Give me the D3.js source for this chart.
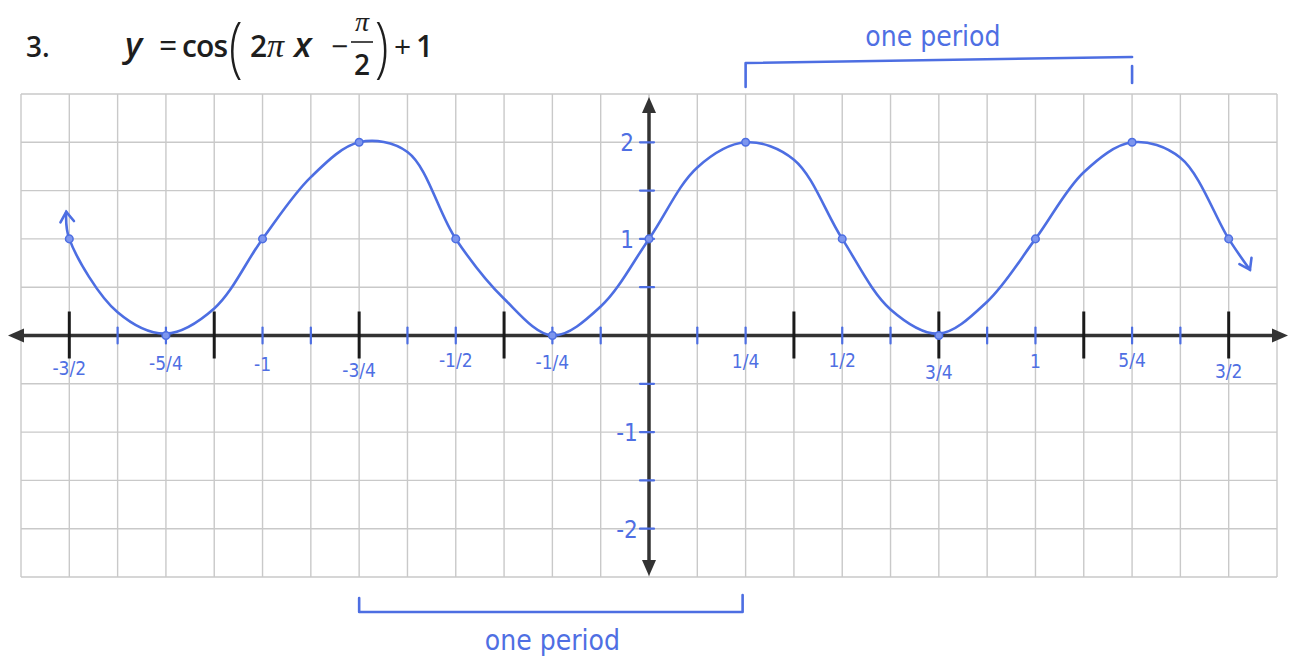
<!DOCTYPE html>
<html>
<head>
<meta charset="utf-8">
<script src="https://cdn.jsdelivr.net/npm/d3@7"></script>
<style>
  html, body { margin: 0; padding: 0; background: #fff; }
  svg { display: block; }
  .hand { font-family: "DejaVu Sans Condensed", "Liberation Sans Narrow", "Roboto", sans-serif; fill: #4f6fe3; }
  .math { font-family: "Open Sans", "DejaVu Sans", sans-serif; fill: #1e1e1e; font-weight: 600; }
  .greek { font-family: "Liberation Serif", "DejaVu Serif", serif; font-style: italic; font-weight: 400; }
</style>
</head>
<body>
<svg id="chart" width="1292" height="664"></svg>
<script>
// Curve y = cos(2πx − π/2) + 1, sampled every eighth of a unit
const curveX = [-1.508, -1.5, -1.375, -1.25, -1.125, -1, -0.875, -0.75, -0.625, -0.5, -0.375, -0.25, -0.125,
                0, 0.125, 0.25, 0.375, 0.5, 0.625, 0.75, 0.875, 1, 1.125, 1.25, 1.375, 1.5, 1.555];
const curveY = [1.28, 1.0, 0.24, 0.02, 0.28, 1.0, 1.64, 2.0, 1.9, 1.0, 0.38, 0.0, 0.3,
                1.0, 1.74, 2.0, 1.82, 1.0, 0.27, 0.02, 0.35, 1.0, 1.69, 2.0, 1.84, 1.0, 0.68];

// Key points marked on the graph
const keyX = [-1.5, -1.25, -1, -0.75, -0.5, -0.25, 0, 0.25, 0.5, 0.75, 1, 1.25, 1.5];
const keyY = [1, 0, 1, 2, 1, 0, 1, 2, 1, 0, 1, 2, 1];

// x-axis tick labels
const xLabelVals = [-1.5, -1.25, -1, -0.75, -0.5, -0.25, 0.25, 0.5, 0.75, 1, 1.25, 1.5];
const xLabelText = ["-3/2", "-5/4", "-1", "-3/4", "-1/2", "-1/4", "1/4", "1/2", "3/4", "1", "5/4", "3/2"];
const xLabelDy   = [39, 34, 35, 41, 31, 33, 32, 31, 43, 32, 31, 42];

// long black ticks and short blue ticks on the x-axis
const majorTicks = [-1.5, -1.125, -0.75, -0.375, 0.375, 0.75, 1.125, 1.5];
const minorTicks = [-1.375, -1.25, -1, -0.875, -0.625, -0.5, -0.25, -0.125,
                    0.125, 0.25, 0.5, 0.625, 0.875, 1, 1.25, 1.375];

// y-axis ticks and labels
const yTicks = [2, 1.5, 1, 0.5, -0.5, -1, -1.5, -2];
const yLabelVals = [2, 1, -1, -2];
const yLabelText = ["2", "1", "-1", "-2"];

// period brackets: [start, end]
const topPeriod = [0.25, 1.25];
const bottomPeriod = [-0.75, 0.25];

const svg = d3.select("#chart");
const blue = "#4d6ee2";
const axisColor = "#333";

const x = d3.scaleLinear().domain([-13 / 8, 13 / 8]).range([21, 1277]);
const y = d3.scaleLinear().domain([-2.5, 2.5]).range([577, 94]);

// grid paper
const grid = svg.append("g").attr("stroke", "#c9c9c9").attr("stroke-width", 1.4);
grid.selectAll("line.v").data(d3.range(-13, 14).map(k => k / 8)).join("line")
  .attr("x1", d => x(d)).attr("x2", d => x(d))
  .attr("y1", y(2.5)).attr("y2", y(-2.5));
grid.selectAll("line.h").data(d3.range(-5, 6).map(k => k / 2)).join("line")
  .attr("x1", x(-13 / 8)).attr("x2", x(13 / 8))
  .attr("y1", d => y(d)).attr("y2", d => y(d));

// axes with arrowheads
const axes = svg.append("g");
axes.append("line").attr("x1", x(-13 / 8) - 6).attr("x2", x(13 / 8) + 4)
  .attr("y1", y(0)).attr("y2", y(0)).attr("stroke", axisColor).attr("stroke-width", 3.5);
axes.append("line").attr("x1", x(0)).attr("x2", x(0))
  .attr("y1", y(2.5) + 10).attr("y2", y(-2.5) - 10).attr("stroke", axisColor).attr("stroke-width", 3.5);
const arrow = (tx, ty, dx, dy) => {
  // triangle pointing in direction (dx, dy)
  const L = 16, W = 7;
  const bx = tx - dx * L, by = ty - dy * L;
  return `M${tx},${ty}L${bx - dy * W},${by + dx * W}L${bx + dy * W},${by - dx * W}Z`;
};
axes.append("path").attr("d", arrow(8, y(0), -1, 0)).attr("fill", axisColor);
axes.append("path").attr("d", arrow(1288, y(0), 1, 0)).attr("fill", axisColor);
axes.append("path").attr("d", arrow(x(0), 97, 0, -1)).attr("fill", axisColor);
axes.append("path").attr("d", arrow(x(0), 576, 0, 1)).attr("fill", axisColor);

// long black ticks
axes.selectAll("line.major").data(majorTicks).join("line")
  .attr("x1", d => x(d)).attr("x2", d => x(d))
  .attr("y1", y(0) - 24).attr("y2", y(0) + 23)
  .attr("stroke", "#1a1a1a").attr("stroke-width", 3);

// short blue ticks on the x-axis
svg.append("g").selectAll("line").data(minorTicks).join("line")
  .attr("x1", d => x(d)).attr("x2", d => x(d))
  .attr("y1", y(0) - 8).attr("y2", y(0) + 8)
  .attr("stroke", blue).attr("stroke-width", 2.2).attr("stroke-linecap", "round");

// short blue ticks on the y-axis
svg.append("g").selectAll("line").data(yTicks).join("line")
  .attr("x1", x(0) - 9).attr("x2", x(0) + 5)
  .attr("y1", d => y(d)).attr("y2", d => y(d))
  .attr("stroke", blue).attr("stroke-width", 2.2).attr("stroke-linecap", "round");

// x labels
svg.append("g").selectAll("text").data(xLabelVals).join("text")
  .attr("class", "hand")
  .attr("x", d => x(d)).attr("y", (d, i) => y(0) + xLabelDy[i])
  .attr("text-anchor", "middle").attr("font-size", 19)
  .text((d, i) => xLabelText[i]);

// y labels
svg.append("g").selectAll("text").data(yLabelVals).join("text")
  .attr("class", "hand")
  .attr("x", x(0) - 22).attr("y", d => y(d) + 9)
  .attr("text-anchor", "middle").attr("font-size", 24)
  .text((d, i) => yLabelText[i]);

// the curve
const pts = curveX.map((d, i) => [d, curveY[i]]);
const line = d3.line().x(d => x(d[0])).y(d => y(d[1])).curve(d3.curveCatmullRom.alpha(0.5));
svg.append("path").datum(pts).attr("d", line)
  .attr("fill", "none").attr("stroke", blue).attr("stroke-width", 2.6)
  .attr("stroke-linecap", "round").attr("stroke-linejoin", "round");

// open chevrons at both ends of the curve
const chevron = (tx, ty, ang) => {
  const L = 12, s = 0.6;
  const p1 = [tx - L * Math.cos(ang - s), ty - L * Math.sin(ang - s)];
  const p2 = [tx - L * Math.cos(ang + s), ty - L * Math.sin(ang + s)];
  return `M${p1[0]},${p1[1]}L${tx},${ty}L${p2[0]},${p2[1]}`;
};
const endA = [x(curveX[0]), y(curveY[0])];
const endB = [x(curveX[curveX.length - 1]), y(curveY[curveY.length - 1])];
svg.append("path").attr("d", chevron(endA[0], endA[1], -Math.PI / 2 - 0.1))
  .attr("fill", "none").attr("stroke", blue).attr("stroke-width", 2.6).attr("stroke-linecap", "round");
svg.append("path").attr("d", chevron(endB[0], endB[1], 1.1))
  .attr("fill", "none").attr("stroke", blue).attr("stroke-width", 2.6).attr("stroke-linecap", "round");

// key points
svg.append("g").selectAll("circle").data(keyX).join("circle")
  .attr("cx", d => x(d)).attr("cy", (d, i) => y(keyY[i])).attr("r", 3.8)
  .attr("fill", "#7d96ee").attr("stroke", blue).attr("stroke-width", 1.5);

// period brackets
const bracket = svg.append("g").attr("fill", "none").attr("stroke", blue)
  .attr("stroke-width", 2.6).attr("stroke-linecap", "round").attr("stroke-linejoin", "round");
bracket.append("path")
  .attr("d", `M${x(topPeriod[0])},87L${x(topPeriod[0])},63L${x(topPeriod[1])},57`);
bracket.append("line")
  .attr("x1", x(topPeriod[1])).attr("x2", x(topPeriod[1])).attr("y1", 66).attr("y2", 83);
bracket.append("path")
  .attr("d", `M${x(bottomPeriod[0])},598L${x(bottomPeriod[0])},612L${x(bottomPeriod[1]) - 3},612L${x(bottomPeriod[1]) - 3},595`);

svg.append("text").attr("class", "hand")
  .attr("x", (x(topPeriod[0]) + x(topPeriod[1])) / 2 - 6).attr("y", 46)
  .attr("text-anchor", "middle").attr("font-size", 28)
  .text("one period");
svg.append("text").attr("class", "hand")
  .attr("x", (x(bottomPeriod[0]) + x(bottomPeriod[1])) / 2).attr("y", 650)
  .attr("text-anchor", "middle").attr("font-size", 28)
  .text("one period");

// title: 3.   y = cos(2πx − π/2) + 1
const t = svg.append("g").attr("class", "math");
t.append("text").attr("x", 26).attr("y", 57).attr("font-size", 28).text("3.");
t.append("text").attr("x", 125).attr("y", 57).attr("font-size", 35).attr("font-style", "italic").text("y");
t.append("text").attr("x", 159).attr("y", 57).attr("font-size", 32).attr("font-weight", 400).text("=");
t.append("text").attr("x", 182).attr("y", 57).attr("font-size", 30).attr("textLength", 46).text("cos");
t.append("text").attr("x", 229).attr("y", 70).attr("font-size", 66).attr("font-weight", 300)
  .attr("transform", "translate(229,40) scale(0.75,1) translate(-229,-40)").text("(");
t.append("text").attr("x", 250).attr("y", 57).attr("font-size", 30).text("2");
t.append("text").attr("class", "greek").attr("x", 267).attr("y", 57).attr("font-size", 34).text("π");
t.append("text").attr("x", 294).attr("y", 57).attr("font-size", 35).attr("font-style", "italic").text("x");
t.append("text").attr("x", 331).attr("y", 57).attr("font-size", 30).attr("font-weight", 400).text("−");
t.append("text").attr("class", "greek").attr("x", 362).attr("y", 31).attr("font-size", 28)
  .attr("text-anchor", "middle").text("π");
t.append("line").attr("x1", 351).attr("x2", 373).attr("y1", 42).attr("y2", 42)
  .attr("stroke", "#1e1e1e").attr("stroke-width", 1.6);
t.append("text").attr("x", 362).attr("y", 75).attr("font-size", 28)
  .attr("text-anchor", "middle").text("2");
t.append("text").attr("x", 375).attr("y", 70).attr("font-size", 66).attr("font-weight", 300)
  .attr("transform", "translate(375,40) scale(0.75,1) translate(-375,-40)").text(")");
t.append("text").attr("x", 394).attr("y", 57).attr("font-size", 30).attr("font-weight", 400).text("+");
t.append("text").attr("x", 416).attr("y", 57).attr("font-size", 30).text("1");
</script>
</body>
</html>
